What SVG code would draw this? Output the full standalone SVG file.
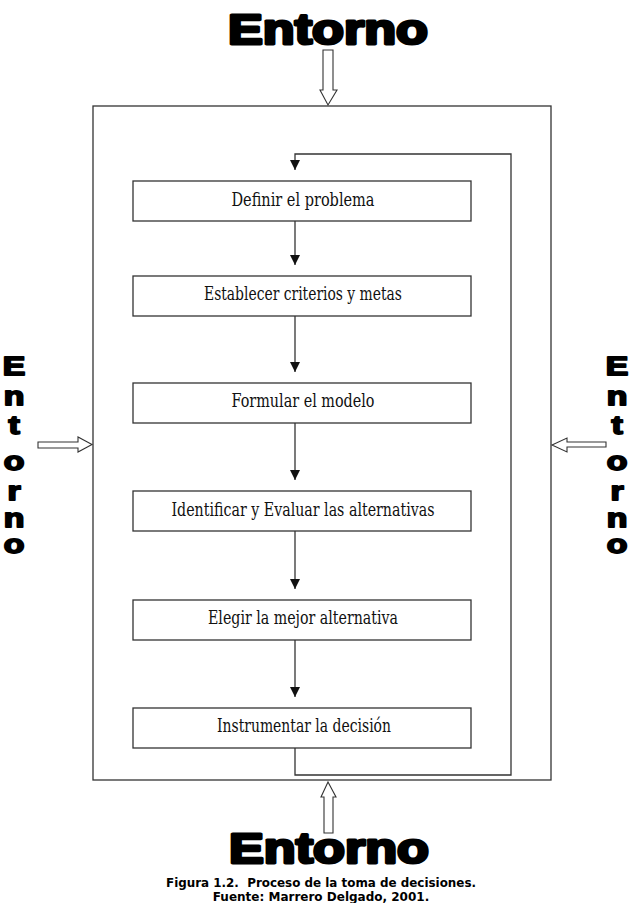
<svg xmlns="http://www.w3.org/2000/svg" width="630" height="903" viewBox="0 0 630 903">
<style>
.ln{fill:none;stroke:#333;stroke-width:1.3}
.bx{fill:#fff;stroke:#333;stroke-width:1.3}
.ha{fill:#fff;stroke:#333;stroke-width:1.1}
.t{font-family:"DejaVu Serif","Liberation Serif",serif;font-size:18px;fill:#111;text-anchor:middle}
.big{font-family:"Liberation Sans",Arial,sans-serif;font-weight:bold;font-size:42px;fill:#000;stroke:#000;stroke-width:3;stroke-linejoin:round;text-anchor:middle}
.v{font-family:"Liberation Sans",Arial,sans-serif;font-weight:bold;font-size:26px;fill:#000;stroke:#000;stroke-width:1.8;stroke-linejoin:round;text-anchor:middle}
.cap{font-family:"DejaVu Sans","Liberation Sans",sans-serif;font-weight:bold;font-size:12px;fill:#000;text-anchor:middle}
</style>
<defs>
<marker id="ah" markerWidth="10" markerHeight="10" refX="10" refY="5" orient="auto" markerUnits="userSpaceOnUse"><path d="M0,0 L10,5 L0,10 Z" fill="#111"/></marker>
</defs>
<rect width="630" height="903" fill="#fff"/>
<g id="system"><rect x="93" y="106" width="458" height="674" class="ln"/></g>
<g id="connectors">
<path class="ln" d="M295,221 V265" marker-end="url(#ah)"/>
<path class="ln" d="M295,316 V372" marker-end="url(#ah)"/>
<path class="ln" d="M295,423 V480" marker-end="url(#ah)"/>
<path class="ln" d="M295,531 V589" marker-end="url(#ah)"/>
<path class="ln" d="M295,640 V697" marker-end="url(#ah)"/>
<path class="ln" d="M295,748 V775 H511 V154 H295 V170" marker-end="url(#ah)"/>
<path class="ha" d="M323,50 H333 V90 H337 L328,105 L320,90 H323 Z"/>
<path class="ha" d="M324,833 H333 V797 H336 L328,782 L321,797 H324 Z"/>
<path class="ha" d="M38,442 H78 V437 L92,444.5 L78,452 V448 H38 Z"/>
<path class="ha" d="M606,442 H567 V438 L552,445 L567,452 V447 H606 Z"/>
</g>
<g id="n1"><rect x="133" y="181" width="338" height="40" class="bx"/><text class="t" x="303" y="206" textLength="143" lengthAdjust="spacingAndGlyphs">Definir el problema</text></g>
<g id="n2"><rect x="133" y="276" width="338" height="40" class="bx"/><text class="t" x="303" y="300" textLength="198" lengthAdjust="spacingAndGlyphs">Establecer criterios y metas</text></g>
<g id="n3"><rect x="133" y="383" width="338" height="40" class="bx"/><text class="t" x="303" y="407" textLength="143" lengthAdjust="spacingAndGlyphs">Formular el modelo</text></g>
<g id="n4"><rect x="133" y="491" width="338" height="40" class="bx"/><text class="t" x="303" y="516" textLength="263" lengthAdjust="spacingAndGlyphs">Identificar y Evaluar las alternativas</text></g>
<g id="n5"><rect x="133" y="600" width="338" height="40" class="bx"/><text class="t" x="303" y="624" textLength="190" lengthAdjust="spacingAndGlyphs">Elegir la mejor alternativa</text></g>
<g id="n6"><rect x="133" y="708" width="338" height="40" class="bx"/><text class="t" x="304" y="732" textLength="174" lengthAdjust="spacingAndGlyphs">Instrumentar la decisión</text></g>
<g id="env-top"><text class="big" x="328" y="44" textLength="200" lengthAdjust="spacingAndGlyphs">Entorno</text></g>
<g id="env-bottom"><text class="big" x="329" y="863" textLength="200" lengthAdjust="spacingAndGlyphs">Entorno</text></g>
<g id="env-left">
<text class="v" transform="translate(14,0) scale(1.3,1)"><tspan x="0" y="375">E</tspan><tspan x="0" y="405">n</tspan><tspan x="0" y="434">t</tspan><tspan x="0" y="470">o</tspan><tspan x="0" y="500">r</tspan><tspan x="0" y="527">n</tspan><tspan x="0" y="553">o</tspan></text>
</g>
<g id="env-right">
<text class="v" transform="translate(617,0) scale(1.3,1)"><tspan x="0" y="375">E</tspan><tspan x="0" y="405">n</tspan><tspan x="0" y="434">t</tspan><tspan x="0" y="470">o</tspan><tspan x="0" y="500">r</tspan><tspan x="0" y="527">n</tspan><tspan x="0" y="553">o</tspan></text>
</g>
<g id="caption">
<text class="cap" x="321" y="887" textLength="310" lengthAdjust="spacingAndGlyphs" xml:space="preserve">Figura 1.2.  Proceso de la toma de decisiones.</text>
<text class="cap" x="321" y="901">Fuente: Marrero Delgado, 2001.</text>
</g>
</svg>
